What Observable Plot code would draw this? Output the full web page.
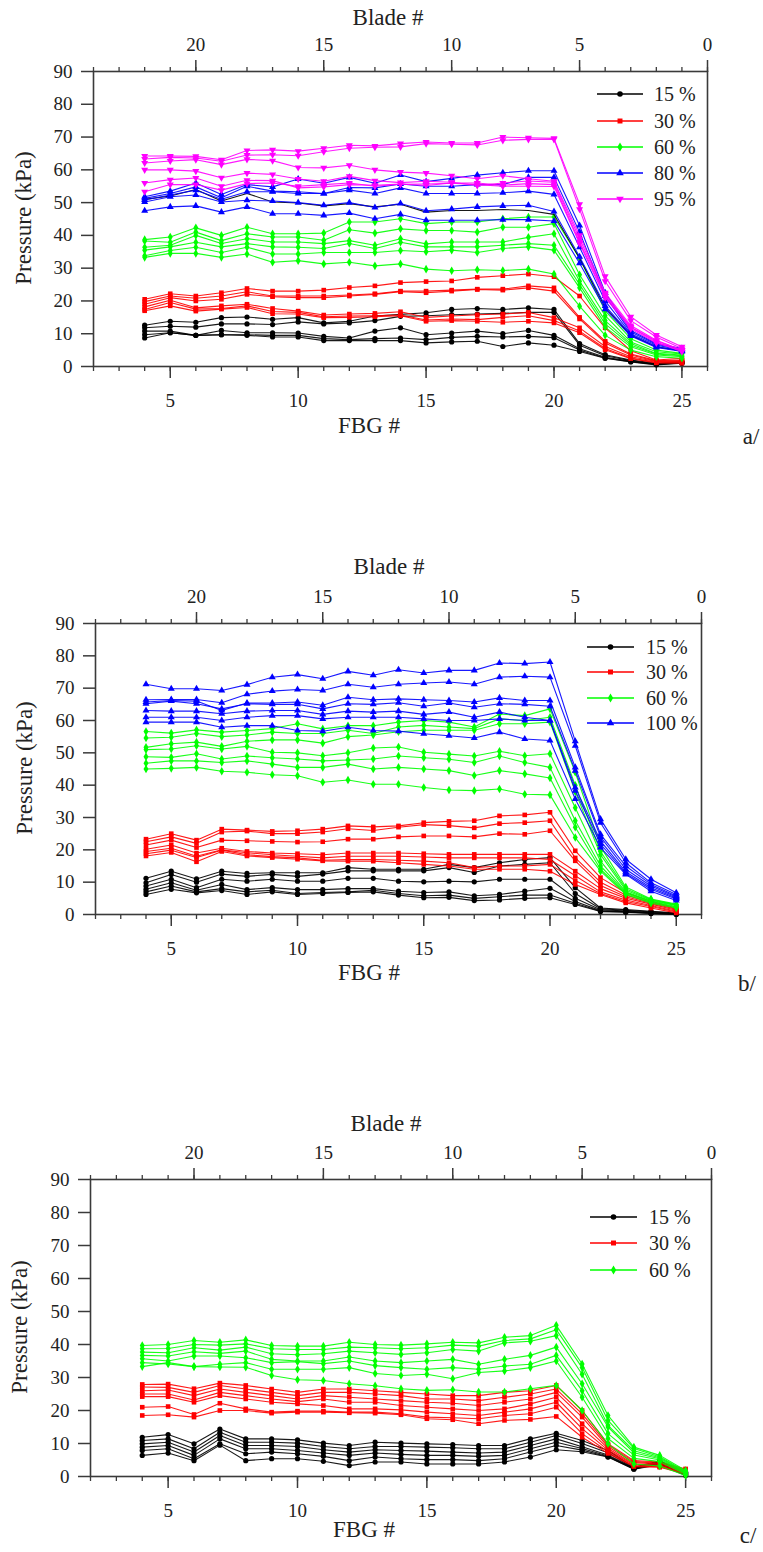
<!DOCTYPE html>
<html><head><meta charset="utf-8">
<script src="https://cdn.jsdelivr.net/npm/d3@7"></script>
<script src="https://cdn.jsdelivr.net/npm/@observablehq/plot@0.6"></script>
<style>
body{margin:0;background:#fff;}
#page{position:relative;width:763px;height:1552px;overflow:hidden;font-family:"Liberation Serif",Tinos,"Times New Roman",Times,"Nimbus Roman","Nimbus Roman No9 L",FreeSerif,"Noto Serif","DejaVu Serif",serif;color:#222;}
.panel{position:absolute;left:0;}
.t{position:absolute;white-space:nowrap;transform:translate(-50%,-50%);font-size:23px;line-height:1;}
.ylab{transform:translate(-50%,-50%) rotate(-90deg);}
.leg{position:absolute;white-space:nowrap;font-size:20px;line-height:1;}
</style></head><body><div id="page"></div>
<script>
// ---------- data ----------
const fbg = [4,5,6,7,8,9,10,11,12,13,14,15,16,17,18,19,20,21,22,23,24,25];
const fbgTicks = [5,10,15,20,25];
const bladeTicks = [20,15,10,5,0];
const yTicks = [0,10,20,30,40,50,60,70,80,90];

// panel a
const a15 = [
 [12.6,13.8,13.5,14.9,15.1,14.4,14.9,13.3,13.8,15.4,15.9,16.4,17.4,17.7,17.4,17.9,17.4,7.0,3.6,2.0,1.0,1.5],
 [11.8,12.3,12.0,13.0,13.0,12.8,13.6,13.0,13.3,14.0,15.3,15.5,15.8,16.0,16.2,16.5,16.5,6.5,3.3,1.8,0.8,1.3],
 [10.8,10.8,9.5,11.0,10.3,10.3,10.2,9.2,8.7,10.8,11.8,9.7,10.2,10.8,10.0,11.0,9.5,5.4,2.8,1.6,0.7,1.2],
 [9.7,10.3,9.5,9.7,9.7,9.5,9.5,8.5,8.2,8.5,8.7,8.2,8.9,9.2,9.0,9.2,8.8,5.0,2.6,1.5,0.6,1.1],
 [8.7,10.3,9.5,9.7,9.5,9.0,9.0,7.9,7.9,7.9,7.9,7.2,7.5,7.7,6.1,7.2,6.5,4.6,2.5,1.4,0.5,1.0]
];
const a30 = [
 [20.5,22.2,21.5,22.5,23.8,23.0,23.0,23.3,24.1,24.6,25.6,25.9,26.1,27.2,27.7,28.2,27.4,21.5,11.8,4.8,2.0,2.5],
 [19.8,21.5,20.8,21.5,22.8,21.5,21.5,21.5,21.8,22.2,23.0,23.0,23.3,23.6,23.6,24.6,24.0,15.0,7.7,3.8,1.8,2.0],
 [19.0,21.0,20.0,20.5,22.0,21.3,21.0,21.0,21.5,22.0,22.8,22.5,23.0,23.5,23.3,24.0,23.0,14.5,7.2,3.5,1.6,1.8],
 [18.2,20.2,17.9,18.5,19.0,17.7,16.9,15.7,16.0,16.2,16.7,15.0,15.4,15.8,16.0,16.5,14.9,11.8,6.1,3.0,1.5,1.5],
 [17.4,19.5,17.5,17.7,18.5,16.8,16.5,15.2,15.4,15.5,15.7,14.2,14.5,14.3,15.0,15.5,14.0,10.8,5.5,2.6,1.3,1.2],
 [17.0,18.5,16.9,17.5,18.0,16.1,16.0,14.9,15.0,15.2,15.5,13.8,14.0,13.8,13.5,13.8,13.3,10.3,5.1,2.4,1.1,1.0]
];
const a60 = [
 [38.7,39.5,42.3,40.0,42.5,40.5,40.5,40.7,44.1,44.1,45.1,43.6,44.1,44.1,45.1,45.6,45.6,33.0,17.0,8.5,5.0,4.0],
 [38.3,37.9,41.0,38.4,40.5,39.5,39.5,38.5,41.7,40.7,42.0,41.5,41.5,41.0,42.5,42.5,43.6,28.0,15.5,7.5,4.5,3.8],
 [36.4,37.0,40.0,37.5,39.0,38.0,38.0,37.5,38.4,37.0,39.0,37.4,38.0,38.0,38.0,39.4,40.5,26.0,14.0,7.0,4.0,3.5],
 [35.5,36.5,37.9,36.5,37.5,36.5,36.4,36.0,37.5,36.0,37.9,36.5,36.5,36.5,37.0,37.5,37.0,25.0,13.0,6.5,3.8,3.3],
 [33.8,35.4,36.4,34.8,36.4,34.3,34.3,34.8,34.8,34.8,35.4,35.0,35.5,34.8,36.0,36.5,35.5,24.0,12.0,6.0,3.5,3.0],
 [33.3,34.5,34.5,33.3,34.3,31.8,32.3,31.3,31.8,30.7,31.3,29.7,29.2,29.5,29.3,29.7,28.2,18.4,9.5,5.0,3.0,2.5]
];
const a80 = [
 [51.8,53.5,56.0,52.5,55.5,54.8,57.2,55.9,57.7,55.9,58.4,56.4,57.4,58.4,59.1,59.7,59.7,43.0,22.5,11.0,7.0,5.5],
 [51.3,52.8,54.8,51.5,55.0,53.5,53.3,52.8,54.6,54.5,55.7,55.0,55.0,55.5,55.5,57.7,57.7,41.0,21.5,10.5,6.8,5.3],
 [50.8,52.3,53.8,51.0,53.3,53.3,52.8,52.8,53.8,52.8,54.5,52.8,52.8,52.8,53.0,53.5,52.5,36.4,20.0,10.0,6.5,5.0],
 [50.2,51.8,52.3,50.2,50.7,50.5,50.0,49.2,50.0,48.5,49.7,47.5,48.0,48.7,49.0,49.2,47.3,33.5,18.5,9.7,6.0,4.8],
 [47.5,48.7,49.0,47.1,48.7,46.6,46.6,46.1,46.8,45.1,46.4,44.6,44.6,44.6,44.8,44.8,44.4,31.5,17.5,9.3,5.8,4.6]
];
const a80black = [
 [51.0,52.0,54.0,50.5,52.8,50.2,49.9,49.0,49.7,48.7,49.5,47.1,47.6,47.6,47.9,47.6,46.4,33.0,18.0,9.5,6.0,4.8]
];
const a95 = [
 [64.2,64.2,64.1,63.1,65.9,66.1,65.7,66.6,67.5,67.3,68.0,68.5,68.2,68.2,70.0,69.8,69.6,49.5,27.5,15.2,9.6,6.0],
 [63.3,63.8,63.6,62.6,64.5,64.6,64.3,65.5,66.6,66.9,67.0,68.0,67.8,67.6,69.0,69.3,69.3,48.0,26.0,14.0,9.0,5.5],
 [62.1,62.7,63.1,61.6,63.2,62.8,60.7,60.6,61.4,60.0,59.3,59.0,58.2,57.3,58.2,57.3,56.5,40.0,22.5,12.5,8.0,5.0],
 [60.0,60.0,59.6,57.6,59.0,58.6,57.2,56.5,58.0,56.7,56.1,56.5,56.2,55.2,56.0,56.6,56.2,39.0,22.0,12.0,7.5,4.5],
 [56.0,57.0,57.5,55.0,56.8,56.7,54.5,54.8,55.5,55.3,55.7,55.2,56.0,56.0,55.3,55.8,55.5,38.0,21.5,12.0,7.8,5.0],
 [53.3,55.5,55.5,53.8,55.8,56.0,55.0,55.5,56.0,55.0,55.6,55.7,55.9,55.5,55.0,55.0,54.9,37.5,21.0,11.5,7.2,4.8]
];

// panel b
const b15 = [
 [11.2,13.4,11.0,13.4,12.7,12.9,12.9,12.9,14.5,14.0,14.0,14.0,15.5,14.5,16.0,17.0,17.6,8.3,2.0,1.5,1.0,0.5],
 [9.8,12.4,10.0,12.5,11.8,12.4,11.8,12.5,13.5,13.5,13.5,13.5,14.5,13.0,15.0,15.5,16.0,6.5,1.8,1.3,0.8,0.4],
 [8.8,10.9,8.3,10.9,10.3,10.9,10.3,10.3,11.2,11.2,10.3,10.1,10.3,10.1,10.9,10.9,10.9,5.0,1.5,1.1,0.6,0.3],
 [7.8,9.8,7.5,9.3,7.7,8.3,7.7,7.7,8.0,8.0,7.2,6.8,7.0,5.8,6.2,7.2,8.1,4.0,1.2,0.9,0.5,0.2],
 [7.0,8.8,7.0,8.0,7.0,7.5,6.5,6.8,7.0,7.5,6.5,5.8,6.0,5.0,5.5,6.0,6.0,3.5,1.0,0.8,0.4,0.1],
 [6.2,7.8,6.7,7.4,6.2,7.0,6.2,6.5,6.8,7.0,6.0,5.2,5.3,4.3,4.5,5.0,5.2,3.1,0.9,0.7,0.3,0.0]
];
const b30 = [
 [23.3,25.0,23.0,26.4,26.1,25.7,25.9,26.4,27.4,27.1,27.4,28.4,28.8,29.0,30.5,30.8,31.6,19.7,11.4,6.7,4.1,2.0],
 [22.5,24.0,22.0,25.5,25.8,25.0,25.0,25.5,26.5,26.0,27.0,27.8,27.5,26.8,28.1,28.4,29.0,17.5,10.0,6.0,3.8,1.8],
 [21.5,23.0,20.7,23.0,22.8,22.6,22.4,22.5,23.3,23.3,24.0,24.3,24.3,24.0,25.0,24.8,25.9,16.6,9.0,5.5,3.5,1.6],
 [20.2,21.5,19.0,20.5,19.5,19.0,18.8,18.5,19.0,19.0,19.0,18.8,18.6,18.6,18.6,18.6,18.6,13.4,8.0,5.0,3.2,1.3],
 [19.5,20.5,18.0,20.0,19.1,18.5,18.0,17.5,18.0,18.0,18.0,17.8,17.5,17.5,17.5,17.5,17.0,12.0,7.0,4.5,2.8,1.0],
 [18.8,19.9,17.6,19.9,18.5,17.9,17.5,16.8,17.0,17.0,16.8,16.5,16.0,14.5,15.0,15.0,15.5,10.5,6.5,4.0,2.5,0.8],
 [18.1,19.2,16.3,19.5,18.1,17.6,17.1,16.6,16.5,16.5,16.0,15.5,15.0,14.0,14.0,14.0,13.4,9.3,6.2,3.6,2.0,0.5]
];
const b60 = [
 [56.6,56.1,57.1,56.4,56.9,57.5,59.0,57.4,58.4,58.4,59.5,60.0,59.5,58.0,62.0,61.5,63.6,44.0,21.0,8.5,4.8,3.2],
 [54.6,54.8,56.0,55.0,55.5,56.4,56.0,56.0,57.0,56.0,58.0,58.5,58.0,57.5,60.5,60.0,61.0,40.0,19.5,8.0,4.6,3.0],
 [51.7,52.8,53.3,52.0,53.6,54.0,54.0,53.0,55.0,55.5,56.5,57.0,57.0,57.0,59.0,59.0,59.5,38.0,18.5,7.5,4.4,2.9],
 [51.0,51.2,52.2,51.2,52.0,50.2,50.0,49.1,50.0,51.5,51.8,50.2,49.6,49.0,50.5,49.1,49.7,33.0,16.5,7.0,4.2,2.8],
 [48.8,48.6,49.7,48.1,49.0,48.5,48.1,47.5,47.8,48.1,49.0,48.5,48.0,47.0,49.0,47.0,45.5,29.0,15.0,6.8,4.0,2.5],
 [46.8,47.5,47.5,47.0,47.5,46.5,45.5,45.5,46.5,45.0,45.5,45.0,44.5,43.0,44.5,43.5,42.2,27.0,14.0,6.5,3.8,2.3],
 [45.0,45.2,45.5,44.3,44.0,43.2,42.9,40.9,41.6,40.3,40.3,39.3,38.5,38.3,38.8,37.2,37.0,23.8,13.4,6.2,3.5,2.0]
];
const b100 = [
 [71.2,69.8,69.8,69.3,71.1,73.4,74.2,72.9,75.2,74.0,75.7,74.7,75.5,75.5,77.8,77.6,78.1,53.6,29.5,17.1,10.9,6.7],
 [66.4,66.5,66.5,65.5,68.1,69.1,69.6,69.3,71.2,70.3,71.2,71.6,71.9,71.2,73.4,73.7,73.4,52.2,28.4,16.0,9.8,6.2],
 [65.7,66.2,66.0,63.1,65.4,65.4,65.7,64.7,67.2,66.4,66.7,66.4,66.2,65.7,67.0,66.2,66.2,45.5,24.8,15.0,9.3,5.7],
 [65.2,66.0,65.2,63.6,65.2,65.0,65.0,63.6,65.2,65.0,65.5,64.4,65.4,64.1,65.2,65.0,64.4,44.5,24.0,14.0,8.8,5.4],
 [63.1,62.9,62.9,62.1,62.9,63.1,63.1,61.9,62.9,62.6,62.9,61.9,62.6,61.0,62.6,61.0,60.0,39.3,22.8,13.2,8.3,5.1],
 [61.0,61.0,61.0,60.0,61.0,61.5,61.5,60.5,61.0,61.0,61.0,60.5,60.0,60.0,60.5,60.0,60.0,38.3,21.8,12.7,7.8,4.8],
 [59.5,59.5,59.5,57.9,58.4,58.4,56.9,56.7,57.9,56.9,56.7,55.9,55.3,54.6,56.4,54.3,53.8,35.7,20.7,12.4,7.2,4.3]
];

// panel c
const c15 = [
 [11.9,12.7,9.9,14.4,11.4,11.4,11.1,10.1,9.4,10.4,10.1,9.9,9.7,9.4,9.4,11.4,13.1,10.9,7.9,2.8,4.8,1.3],
 [10.9,11.4,8.4,13.4,10.4,10.4,10.1,9.1,8.4,9.1,9.1,8.9,8.7,8.4,8.4,10.4,12.4,10.0,7.2,2.6,4.5,1.1],
 [9.9,10.4,7.4,12.4,9.4,9.4,9.1,8.1,7.4,8.1,7.9,7.7,7.4,7.1,7.4,9.4,11.4,9.0,6.5,2.5,4.2,0.9],
 [8.9,9.4,6.4,11.4,8.4,8.4,7.9,7.1,6.4,7.1,6.7,6.4,6.4,6.1,6.4,8.4,10.4,8.5,6.2,2.4,4.0,0.7],
 [7.9,8.4,5.4,9.9,6.9,7.4,6.9,6.1,4.8,5.9,5.4,5.1,5.1,4.8,5.4,7.4,9.4,8.0,6.0,2.3,3.8,0.5],
 [6.4,7.1,4.8,9.5,4.8,5.4,5.4,4.6,3.3,4.4,4.4,3.8,3.8,3.8,4.4,5.9,8.1,7.5,5.9,2.2,3.6,0.3]
];
const c30 = [
 [27.9,28.0,26.6,28.3,27.6,26.5,25.5,26.5,26.5,26.0,25.5,25.0,24.5,24.5,25.5,26.0,27.6,20.0,9.9,4.8,4.4,2.3],
 [27.1,27.0,25.5,27.6,26.5,25.5,24.5,25.5,25.5,25.0,24.5,23.5,23.5,23.0,24.0,25.0,26.5,19.0,9.5,4.5,4.0,2.0],
 [26.0,26.2,24.5,26.5,25.5,24.5,23.5,24.5,24.0,23.5,23.0,22.5,22.2,21.5,22.5,23.5,25.5,18.0,9.0,4.2,3.8,1.8],
 [25.0,25.0,23.2,25.5,24.5,23.5,22.7,23.5,22.5,22.5,21.5,21.0,20.5,20.0,20.5,22.0,24.0,16.0,8.5,3.8,3.5,1.5],
 [24.2,24.2,22.5,24.5,23.5,22.5,22.0,21.5,20.5,20.5,20.2,19.5,19.0,18.5,19.5,20.5,22.5,14.5,8.0,3.5,3.2,1.2],
 [21.0,21.2,18.8,22.2,20.5,19.5,19.8,19.8,19.5,19.5,19.0,18.0,17.8,17.5,18.5,19.0,21.0,13.0,7.5,3.2,3.0,1.0],
 [18.5,18.7,18.0,20.0,20.0,19.2,19.5,19.5,19.3,19.2,18.7,17.5,17.2,16.0,17.0,17.3,18.2,11.9,7.0,3.0,2.8,0.8]
];
const c60 = [
 [39.7,40.0,41.2,40.7,41.4,39.7,39.5,39.5,40.7,40.0,39.8,40.2,40.7,40.5,42.2,42.7,45.8,34.1,18.5,8.9,6.4,1.8],
 [38.7,38.8,40.0,39.8,40.2,38.7,38.5,38.5,39.2,39.0,38.7,39.0,39.8,39.5,41.2,41.7,44.5,33.0,17.0,8.5,6.0,1.5],
 [37.7,37.5,39.0,38.3,39.2,37.2,36.9,37.2,38.0,37.5,37.0,37.5,38.5,38.0,40.5,41.0,42.7,31.0,15.5,7.8,5.7,1.3],
 [36.7,36.5,37.8,37.3,38.0,35.5,35.0,35.0,36.2,35.0,34.5,35.0,35.5,34.0,35.5,36.7,39.2,28.1,15.0,7.2,5.4,1.1],
 [35.7,35.0,36.5,36.5,36.0,34.5,34.8,34.2,35.0,33.6,33.0,32.5,33.0,32.5,33.5,34.0,36.7,26.0,13.0,6.5,5.0,0.9],
 [34.5,34.1,33.3,34.0,34.5,32.5,32.5,32.5,33.0,31.2,30.6,31.0,29.6,31.5,32.0,33.0,35.0,24.0,11.5,5.5,4.5,0.7],
 [33.3,34.5,33.3,33.2,33.1,30.6,29.3,29.1,28.1,27.5,26.6,26.1,26.3,25.6,25.6,26.6,27.6,20.0,9.9,3.8,3.2,0.3]
];

// ---------- styles / layout ----------
const FONT = '"Liberation Serif",Tinos,"Times New Roman",Times,"Nimbus Roman","Nimbus Roman No9 L",FreeSerif,"Noto Serif","DejaVu Serif",serif';
const triDown = {draw(ctx, size){const y = -Math.sqrt(size/(Math.sqrt(3)*3)); ctx.moveTo(0,-2*y); ctx.lineTo(-Math.sqrt(3)*y, y); ctx.lineTo(Math.sqrt(3)*y, y); ctx.closePath();}};
const S = {
  k: {color:"#000000", symbol:d3.symbolCircle},
  r: {color:"#ff0000", symbol:d3.symbolSquare},
  g: {color:"#00ff00", symbol:d3.symbolDiamond},
  b: {color:"#0000ff", symbol:d3.symbolTriangle},
  m: {color:"#ff00ff", symbol:triDown}
};
const bladeOf = f => 26 - f;

const panels = [
  {top:0, height:451, mt:71, mb:85, ml:93, mr:56, tag:"a/",
   groups:[{label:"15 %", st:S.k, data:a15},{label:"30 %", st:S.r, data:a30},{label:"60 %", st:S.g, data:a60},
           {label:null, st:S.k, data:a80black, noDots:true},
           {label:"80 %", st:S.b, data:a80},{label:"95 %", st:S.m, data:a95}],
   pos:{blade:[388,17], fbgT:[369,425], pres:[23,218], tag:[751,436], leg:{x0:597,x1:643,ty:654,y:[94,120.5,146.7,173,199.3]}}},
  {top:540, height:454, mt:83, mb:80, ml:95, mr:62, tag:"b/",
   groups:[{label:"15 %", st:S.k, data:b15},{label:"30 %", st:S.r, data:b30},{label:"60 %", st:S.g, data:b60},{label:"100 %", st:S.b, data:b100}],
   pos:{blade:[389,566], fbgT:[369,972], pres:[24,768], tag:[747,983], leg:{x0:587,x1:634,ty:646,y:[646.7,672.3,698,723.3]}}},
  {top:1090, height:462, mt:89, mb:76, ml:90, mr:52, tag:"c/",
   groups:[{label:"15 %", st:S.k, data:c15},{label:"30 %", st:S.r, data:c30},{label:"60 %", st:S.g, data:c60}],
   pos:{blade:[386,1123], fbgT:[364,1529], pres:[19,1327], tag:[748,1535], leg:{x0:590,x1:637,ty:649,y:[1217.3,1243.3,1270]}}}
];

const page = document.getElementById("page");
const axisStroke = "#3a3a3a";
function addText(txt, x, y, cls){const d=document.createElement("div"); d.className="t "+(cls||""); d.textContent=txt; d.style.left=x+"px"; d.style.top=y+"px"; page.appendChild(d);}

for (const P of panels) {
  const marks = [];
  marks.push(Plot.frame({stroke:axisStroke, strokeWidth:1.6}));
  marks.push(Plot.axisY({ticks:yTicks, tickSize:12, tickPadding:9, fontSize:19, fontFamily:FONT, label:null, stroke:axisStroke, strokeWidth:1.5, fill:"#222"}));
  marks.push(Plot.axisX({anchor:"bottom", ticks:d3.range(2,27), tickSize:5, tickFormat:()=>"", label:null, stroke:axisStroke, strokeWidth:1.3}));
  marks.push(Plot.axisX({anchor:"bottom", ticks:fbgTicks, tickSize:12, tickPadding:15, fontSize:19, fontFamily:FONT, label:null, stroke:axisStroke, strokeWidth:1.5, fill:"#222"}));
  marks.push(Plot.axisX({anchor:"top", ticks:d3.range(2,27), tickSize:5, tickFormat:()=>"", label:null, stroke:axisStroke, strokeWidth:1.3}));
  marks.push(Plot.axisX({anchor:"top", ticks:bladeTicks.map(bladeOf), tickFormat:d=>bladeOf(d), tickSize:12, tickPadding:9, fontSize:19, fontFamily:FONT, label:null, stroke:axisStroke, strokeWidth:1.5, fill:"#222"}));
  for (const g of P.groups) {
    const rows = [];
    g.data.forEach((s, si) => s.forEach((p, i) => rows.push({s:si, x:fbg[i], y:p})));
    marks.push(Plot.line(rows, {x:"x", y:"y", z:"s", stroke:g.st.color, strokeWidth:1.1, strokeOpacity:0.9}));
    if (!g.noDots) marks.push(Plot.dot(rows, {x:"x", y:"y", fill:g.st.color, symbol:g.st.symbol, r:2.6}));
  }
  const svg = Plot.plot({
    width:763, height:P.height, marginTop:P.mt, marginBottom:P.mb, marginLeft:P.ml, marginRight:P.mr,
    x:{domain:[2,26]}, y:{domain:[0,90]},
    style:{fontFamily:FONT, fontSize:"19px", color:"#222", background:"transparent", overflow:"visible"},
    marks
  });
  const wrap = document.createElement("div"); wrap.className="panel"; wrap.style.top=P.top+"px"; wrap.appendChild(svg); page.appendChild(wrap);
  addText("Blade #", P.pos.blade[0], P.pos.blade[1]);
  addText("FBG #", P.pos.fbgT[0], P.pos.fbgT[1]);
  addText("Pressure (kPa)", P.pos.pres[0], P.pos.pres[1], "ylab");
  addText(P.tag, P.pos.tag[0], P.pos.tag[1]);
  // legend
  const L = P.pos.leg; let k = 0;
  for (const g of P.groups) {
    if (!g.label) continue;
    const y = L.y[k++]; const w = L.x1 - L.x0;
    const row = document.createElement("div"); row.className="leg";
    row.style.left = L.x0+"px"; row.style.top = (y-10)+"px";
    const ns="http://www.w3.org/2000/svg";
    const s = document.createElementNS(ns,"svg"); s.setAttribute("width",w); s.setAttribute("height",20); s.style.position="absolute"; s.style.left="0px"; s.style.top="0px";
    const ln = document.createElementNS(ns,"line"); ln.setAttribute("x1",0); ln.setAttribute("x2",w); ln.setAttribute("y1",10); ln.setAttribute("y2",10); ln.setAttribute("stroke",g.st.color); ln.setAttribute("stroke-width",1.5); s.appendChild(ln);
    const pt = document.createElementNS(ns,"path"); pt.setAttribute("d", d3.symbol(g.st.symbol, Math.PI*2.8*2.8)()); pt.setAttribute("transform",`translate(${w/2},10)`); pt.setAttribute("fill",g.st.color); s.appendChild(pt);
    row.appendChild(s);
    const tx = document.createElement("span"); tx.textContent=g.label; tx.style.position="absolute"; tx.style.left=(L.ty-L.x0)+"px"; tx.style.top="0px"; row.appendChild(tx);
    page.appendChild(row);
  }
}
</script></body></html>
